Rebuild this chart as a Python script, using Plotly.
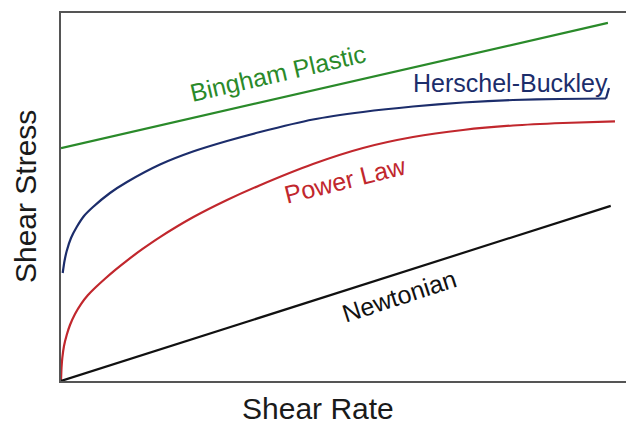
import plotly.graph_objects as go

# Shear rate (x) and shear stress (y) values (arbitrary units)
newtonian_x = [0.0, 9.73]
newtonian_y = [0.0, 4.76]

bingham_x = [0.0, 9.68]
bingham_y = [6.33, 9.73]

power_x = [0.0, 0.009, 0.023, 0.053, 0.101, 0.159, 0.248, 0.354, 0.478, 0.619, 0.779,
           0.956, 1.168, 1.451, 1.752, 2.336, 2.938, 3.522, 4.460, 5.345, 6.230, 7.115,
           8.000, 8.885, 9.805]
power_y = [0.0, 0.353, 0.625, 0.951, 1.25, 1.522, 1.821, 2.092, 2.337, 2.554, 2.780,
           3.014, 3.274, 3.595, 3.910, 4.448, 4.918, 5.321, 5.897, 6.332, 6.630, 6.821,
           6.943, 7.011, 7.054]

hb_x = [0.03, 0.062, 0.101, 0.177, 0.278, 0.407, 0.566, 0.867, 1.168, 1.752, 2.336,
        2.938, 3.522, 4.460, 5.345, 6.230, 7.115, 8.000, 8.832, 9.646]
hb_y = [2.935, 3.261, 3.533, 3.886, 4.185, 4.484, 4.728, 5.109, 5.408, 5.883, 6.236,
        6.522, 6.766, 7.106, 7.310, 7.459, 7.568, 7.636, 7.663, 7.677]

hb_hook_x = [9.646, 9.699]
hb_hook_y = [7.677, 7.962]

labels = ["Bingham Plastic", "Herschel-Buckley", "Power Law", "Newtonian"]
x_title = "Shear Rate"
y_title = "Shear Stress"

GREEN = "#2a8a2a"
NAVY = "#1c2d6b"
RED = "#c1272d"
BLACK = "#111111"
FONT = "Liberation Sans, Arial, sans-serif"

fig = go.Figure()
series = [
    (bingham_x, bingham_y, GREEN, "linear"),
    (hb_x, hb_y, NAVY, "spline"),
    (hb_hook_x, hb_hook_y, NAVY, "linear"),
    (power_x, power_y, RED, "spline"),
    (newtonian_x, newtonian_y, BLACK, "linear"),
]
for xs, ys, col, shape in series:
    fig.add_trace(go.Scatter(x=xs, y=ys, mode="lines",
                             line=dict(color=col, width=2.2, shape=shape, smoothing=0.6),
                             showlegend=False, hoverinfo="skip"))

ann = [
    (labels[0], 3.84, 8.38, -13, GREEN),
    (labels[1], 7.96, 8.09, 0, NAVY),
    (labels[2], 5.03, 5.46, -14, RED),
    (labels[3], 5.98, 2.32, -18, BLACK),
]
for txt, ax, ay, ang, col in ann:
    fig.add_annotation(x=ax, y=ay, xref="x", yref="y", text=txt, showarrow=False,
                       textangle=ang, font=dict(family=FONT, size=25, color=col),
                       xanchor="center", yanchor="middle")

fig.add_annotation(x=0.454, y=-0.074, xref="paper", yref="paper", text=x_title,
                   showarrow=False, font=dict(family=FONT, size=30, color="#1a1a1a"),
                   xanchor="center", yanchor="middle")
fig.add_annotation(x=-0.063, y=0.501, xref="paper", yref="paper", text=y_title,
                   showarrow=False, textangle=-90,
                   font=dict(family=FONT, size=30, color="#1a1a1a"),
                   xanchor="center", yanchor="middle")

axis_common = dict(showgrid=False, zeroline=False, showticklabels=False, ticks="",
                   showline=True, linecolor="#555555", linewidth=2)
fig.update_xaxes(range=[0, 10], mirror=True, **axis_common)
fig.update_yaxes(range=[0, 10], mirror=False, **axis_common)

fig.update_layout(width=626, height=421, margin=dict(l=61, r=0, t=13, b=40),
                  paper_bgcolor="white", plot_bgcolor="white")

fig.write_html("out.html", config={"displayModeBar": False},
               post_script="document.body.style.margin='0';document.body.style.overflow='hidden';")
